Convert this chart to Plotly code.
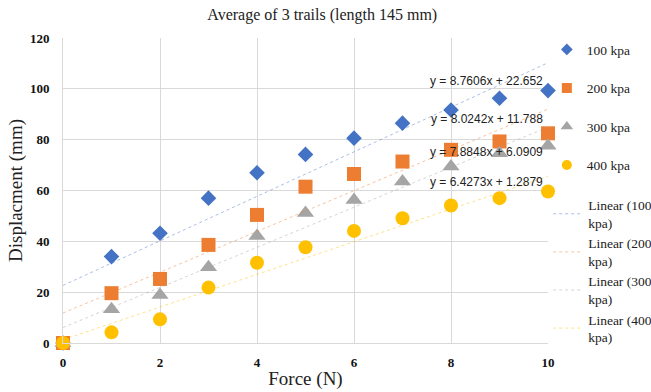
import plotly.graph_objects as go

force = [0, 1, 2, 3, 4, 5, 6, 7, 8, 9, 10]
disp_100 = [0, 34.0, 43.2, 57.0, 67.0, 74.2, 80.6, 86.5, 91.7, 96.3, 99.3]
disp_200 = [0, 19.6, 25.2, 38.6, 50.4, 61.5, 66.5, 71.4, 76.0, 79.3, 82.5]
disp_300 = [0, 13.3, 18.9, 29.8, 42.1, 51.1, 56.3, 63.5, 69.4, 74.7, 77.6]
disp_400 = [0, 4.2, 9.3, 21.8, 31.6, 37.7, 44.1, 49.1, 54.1, 57.0, 59.6]
series_names = ["100 kpa", "200 kpa", "300 kpa", "400 kpa"]
slopes = [8.7606, 8.0242, 7.8848, 6.4273]
intercepts = [22.652, 11.788, 6.0909, 1.2879]
equations = ["y = 8.7606x + 22.652", "y = 8.0242x + 11.788",
             "y = 7.8848x + 6.0909", "y = 6.4273x + 1.2879"]
x_ticks = [0, 2, 4, 6, 8, 10]
y_ticks = [0, 20, 40, 60, 80, 100, 120]

colors = ["#4472C4", "#ED7D31", "#A5A5A5", "#FFC000"]
symbols = ["diamond", "square", "triangle-up", "circle"]
sizes = [12, 14, 15, 14]
legend_sizes = [9, 10, 11, 10]
series = [disp_100, disp_200, disp_300, disp_400]
serif = "Liberation Serif"

fig = go.Figure()
for i, (name, ys) in enumerate(zip(series_names, series)):
    fig.add_trace(go.Scatter(
        x=force, y=ys, mode="markers", name=name, showlegend=False,
        marker=dict(symbol=symbols[i], size=sizes[i], color=colors[i]),
        legendgroup="g%d" % i, cliponaxis=False,
    ))
    # legend entry with a smaller symbol, as in the reference
    fig.add_trace(go.Scatter(
        x=[None], y=[None], mode="markers", name=name,
        marker=dict(symbol=symbols[i], size=legend_sizes[i], color=colors[i]),
        legend="legend", legendgroup="g%d" % i,
    ))
for i, name in enumerate(series_names):
    xs = [force[0], force[-1]]
    ys = [slopes[i] * x + intercepts[i] for x in xs]
    fig.add_trace(go.Scatter(
        x=xs, y=ys, mode="lines", name="Linear (%s<br>%s)" % tuple(name.split(" ")),
        line=dict(color=colors[i], width=1, dash="dot"), opacity=0.45,
        legend="legend2", legendgroup="l%d" % i,
    ))

eq_y = [0.859, 0.734, 0.626, 0.528]
for i, eq in enumerate(equations):
    fig.add_annotation(text=eq, xref="paper", yref="paper", x=0.993, y=eq_y[i],
                       xanchor="right", yanchor="middle", showarrow=False,
                       font=dict(family="Liberation Sans", size=12, color="#222"))

fig.update_layout(
    width=651, height=392,
    margin=dict(l=63, r=103, t=38, b=49, autoexpand=False),
    paper_bgcolor="white", plot_bgcolor="white",
    title=dict(text="Average of 3 trails (length 145 mm)", x=0.495, xref="container", xanchor="center",
               y=0.962, yanchor="middle", font=dict(family=serif, size=16, color="#222")),
    xaxis=dict(range=[0, 10], tickvals=x_ticks, showgrid=True, gridcolor="#D9D9D9",
               showline=True, linecolor="#D9D9D9", zeroline=False, mirror=False,
               ticks="outside", ticklen=7, tickcolor="rgba(0,0,0,0)",
               tickfont=dict(family=serif, size=13, color="#111", weight="bold"),
               title=dict(text="Force (N)", font=dict(family=serif, size=19, color="#222"), standoff=3)),
    yaxis=dict(range=[0, 120], tickvals=y_ticks, showgrid=True, gridcolor="#D9D9D9",
               showline=True, linecolor="#D9D9D9", zeroline=False,
               ticks="outside", ticklen=10, tickcolor="rgba(0,0,0,0)",
               tickfont=dict(family=serif, size=13, color="#111", weight="bold"),
               title=dict(text="Displacment (mm)", font=dict(family=serif, size=19, color="#222"), standoff=2)),
    legend=dict(xref="container", yref="container", x=0.84, xanchor="left", y=0.913, yanchor="top",
                traceorder="grouped", tracegroupgap=18,
                font=dict(family=serif, size=13.5, color="#222"),
                bgcolor="rgba(0,0,0,0)", itemwidth=30),
    legend2=dict(xref="container", yref="container", x=0.842, xanchor="left", y=0.516, yanchor="top",
                 traceorder="grouped", tracegroupgap=0,
                 font=dict(family=serif, size=13.5, color="#222"),
                 bgcolor="rgba(0,0,0,0)", itemwidth=30),
    showlegend=True,
)

fig.write_html("out.html")
